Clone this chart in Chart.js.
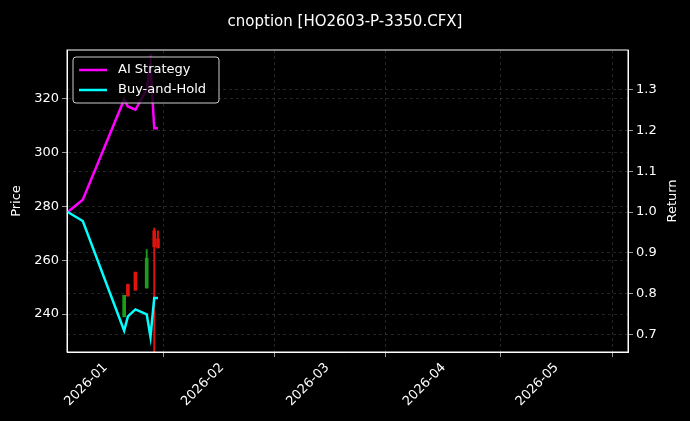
<!DOCTYPE html>
<html>
<head>
<meta charset="utf-8">
<script src="https://cdn.jsdelivr.net/npm/chart.js@4/dist/chart.umd.min.js"></script>
<style>
  html, body { margin: 0; padding: 0; background: #000; }
  #wrap { width: 690px; height: 421px; }
</style>
</head>
<body>
<div id="wrap"><canvas id="c" width="690" height="421"></canvas></div>
<script>
const lineDates = ['2025-12-22', '2025-12-26', '2026-01-06', '2026-01-07', '2026-01-09', '2026-01-12', '2026-01-13', '2026-01-14', '2026-01-15'];
const aiReturn = [1.0, 1.03, 1.275, 1.258, 1.25, 1.30, 1.36, 1.205, 1.205];
const holdReturn = [1.0, 0.978, 0.71, 0.745, 0.762, 0.75, 0.695, 0.79, 0.79];

const candleDates = ['2026-01-06', '2026-01-07', '2026-01-09', '2026-01-12', '2026-01-14', '2026-01-15'];
const candleOpen = [239, 251, 255.6, 249.7, 271, 268];
const candleClose = [247, 246.7, 248.9, 260.8, 265, 264.6];
const candleHigh = [247, 251.2, 255.6, 264, 272, 271];
const candleLow = [239, 246.7, 248.9, 249.7, 220, 264.6];

const monthTicks = ['2026-01-01', '2026-02-01', '2026-03-01', '2026-04-01', '2026-05-01'];

const t = s => Date.parse(s + 'T00:00:00Z');
const DAY = 86400000;
const fontFam = '"DejaVu Sans", sans-serif';
const grid = { color: 'rgba(150,150,150,0.4)', lineWidth: 0.6, tickColor: '#fff', tickLength: 5, drawOnChartArea: true };

const bodyData = candleDates.map((d, i) => ({ x: t(d), y: [candleOpen[i], candleClose[i]] }));
const wickData = candleDates.map((d, i) => ({ x: t(d), y: [candleLow[i], candleHigh[i]] }));
const candleColors = candleOpen.map((o, i) => candleClose[i] >= o ? '#1a9e1a' : '#e0140c');

const legendPlugin = {
  id: 'boxLegend',
  afterDraw(chart) {
    const ctx = chart.ctx, a = chart.chartArea;
    const x = a.left + 6, y = a.top + 7;
    ctx.save();
    ctx.fillStyle = 'rgba(0,0,0,0.8)';
    ctx.strokeStyle = '#ccc';
    ctx.lineWidth = 1;
    ctx.beginPath();
    ctx.roundRect(x, y, 146, 46, 3);
    ctx.fill();
    ctx.stroke();
    ctx.font = '13px ' + fontFam;
    ctx.textBaseline = 'middle';
    [['AI Strategy', '#ff00ff'], ['Buy-and-Hold', '#00ffff']].forEach((it, i) => {
      const yy = y + 13 + i * 20;
      ctx.strokeStyle = it[1];
      ctx.lineWidth = 2.5;
      ctx.beginPath();
      ctx.moveTo(x + 6, yy);
      ctx.lineTo(x + 34, yy);
      ctx.stroke();
      ctx.fillStyle = '#fff';
      ctx.fillText(it[0], x + 45, yy);
    });
    // axis titles, both rotated counter-clockwise
    const mid = (a.top + a.bottom) / 2;
    ctx.font = '13px ' + fontFam;
    ctx.textAlign = 'center';
    [['Price', 17], ['Return', 673]].forEach(([txt, px]) => {
      ctx.save();
      ctx.translate(px, mid);
      ctx.rotate(-Math.PI / 2);
      ctx.fillText(txt, 0, 0);
      ctx.restore();
    });
    ctx.restore();
  }
};

const borderPlugin = {
  id: 'frame',
  afterDraw(chart) {
    const ctx = chart.ctx, a = chart.chartArea;
    ctx.save();
    ctx.strokeStyle = '#fff';
    ctx.lineWidth = 1;
    ctx.strokeRect(a.left, a.top, a.right - a.left, a.bottom - a.top);
    ctx.restore();
  }
};

new Chart(document.getElementById('c'), {
  type: 'bar',
  data: {
    datasets: [
      {
        type: 'bar', data: wickData, yAxisID: 'y', backgroundColor: candleColors,
        barThickness: 1.2, grouped: false, order: 3
      },
      {
        type: 'bar', data: bodyData, yAxisID: 'y', backgroundColor: candleColors,
        barThickness: 3, grouped: false, order: 2
      },
      {
        type: 'line', label: 'AI Strategy', yAxisID: 'y1', borderColor: '#ff00ff', borderWidth: 2.5,
        pointRadius: 0, data: lineDates.map((d, i) => ({ x: t(d), y: aiReturn[i] })), order: 1
      },
      {
        type: 'line', label: 'Buy-and-Hold', yAxisID: 'y1', borderColor: '#00ffff', borderWidth: 2.5,
        pointRadius: 0, data: lineDates.map((d, i) => ({ x: t(d), y: holdReturn[i] })), order: 0
      }
    ]
  },
  options: {
    responsive: false,
    animation: false,
    layout: { padding: 0 },
    plugins: {
      legend: { display: false },
      tooltip: { enabled: false },
      title: {
        display: true, text: 'cnoption [HO2603-P-3350.CFX]', color: '#fff',
        font: { family: fontFam, size: 15, weight: 'normal' }, padding: { top: 13, bottom: 19 }
      }
    },
    scales: {
      x: {
        type: 'linear', offset: false,
        min: t('2025-12-22') - 0.2 * DAY, max: t('2026-05-20'),
        afterBuildTicks: s => { s.ticks = monthTicks.map(m => ({ value: t(m) })); },
        afterFit: s => { s.height = 69; },
        ticks: {
          color: '#fff', font: { family: fontFam, size: 13 }, maxRotation: 45, minRotation: 45,
          callback: v => new Date(v).toISOString().slice(0, 7)
        },
        grid: grid,
        border: { color: '#fff', dash: [3, 3] }
      },
      y: {
        position: 'left', min: 225.9, max: 338.2,
        afterBuildTicks: s => { s.ticks = [240, 260, 280, 300, 320].map(v => ({ value: v })); },
        afterFit: s => { s.width = 67; },
        ticks: { color: '#fff', font: { family: fontFam, size: 13 } },
        grid: grid,
        border: { color: '#fff', dash: [3, 3] }
      },
      y1: {
        position: 'right', min: 0.658, max: 1.396,
        afterBuildTicks: s => { s.ticks = [0.7, 0.8, 0.9, 1.0, 1.1, 1.2, 1.3].map(v => ({ value: v })); },
        afterFit: s => { s.width = 62; },
        ticks: { color: '#fff', font: { family: fontFam, size: 13 }, callback: v => v.toFixed(1) },
        grid: grid,
        border: { color: '#fff', dash: [3, 3] }
      }
    }
  },
  plugins: [
    { id: 'bg', beforeDraw(c) { c.ctx.save(); c.ctx.fillStyle = '#000'; c.ctx.fillRect(0, 0, c.width, c.height); c.ctx.restore(); } },
    borderPlugin, legendPlugin
  ]
});
</script>
</body>
</html>
